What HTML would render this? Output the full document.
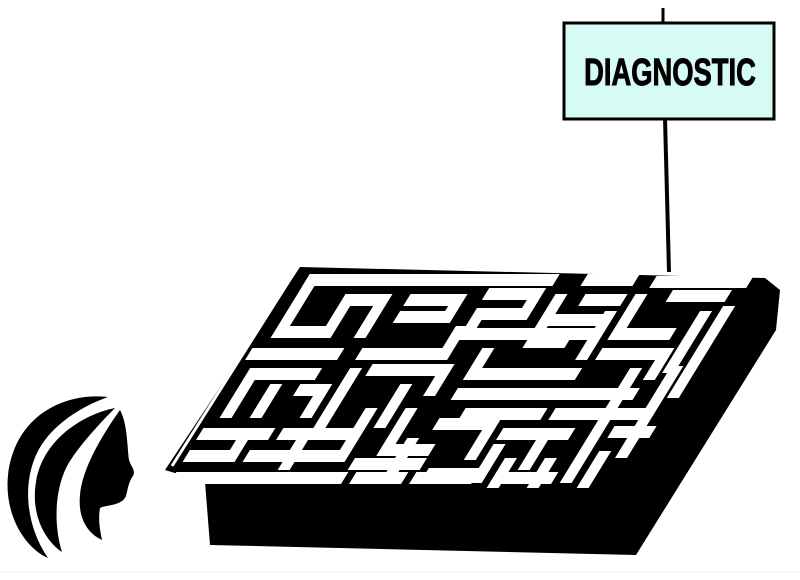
<!DOCTYPE html>
<html><head><style>html,body{margin:0;padding:0;background:#fff}svg{display:block}</style></head>
<body>
<svg width="800" height="580" viewBox="0 0 800 580" xmlns="http://www.w3.org/2000/svg">
<rect width="800" height="580" fill="#fff"/>
<line x1="0" y1="572" x2="800" y2="572" stroke="#eee" stroke-width="1"/>
<!-- pole -->
<line x1="663" y1="8" x2="663" y2="24" stroke="#000" stroke-width="3"/>
<line x1="665" y1="118" x2="669" y2="272" stroke="#000" stroke-width="4"/>
<!-- sign -->
<rect x="564" y="23" width="210" height="96" fill="#d6fbf5" stroke="#000" stroke-width="3"/>
<text x="670" y="85" text-anchor="middle" font-family="Liberation Sans, sans-serif" font-weight="bold" font-size="38" stroke="#000" stroke-width="1" transform="translate(670 0) scale(0.72 1) translate(-670 0)" fill="#000">DIAGNOSTIC</text>
<!-- maze body -->
<polygon points="300,267 765,278 780,290 776,330 636,555 210,545 205,482 165,470" fill="#000"/>
<line x1="296" y1="270" x2="172" y2="466" stroke="#fff" stroke-width="3"/>
<g transform="matrix(1,0,-0.613,1,305,272)" stroke="#fff" stroke-width="12" stroke-linecap="square" fill="none">
<path d="M12 8 H250 M290 8 H330 M360 10 H445"/>
<path d="M12 8 V60 H60 V28 H95 V60 M125 28 H170 V45 H125 M200 22 H245 V42 H200 V62 H250 M270 28 V70 H300 M300 28 H330 M280 48 H320 M350 28 V62 H400 M385 24 H432 M425 45 V95 M350 82 H410 V102"/>
<path d="M0 82 H80 M110 82 H190 M190 60 V82 M230 82 V102 H330 M260 62 H330 M330 45 V82 M445 40 V120"/>
<path d="M10 102 V140 M10 102 H70 M40 118 V140 M70 118 H90 V140 M110 102 V150 M130 98 H200 V118 M170 118 V150 M230 122 H400 M250 142 H320 M340 142 H420 M390 102 V205 M430 100 V180"/>
<path d="M0 162 H60 M80 162 H150 M150 142 V172 M190 142 V178 H230 M230 152 H280 V182 M300 162 H360 M340 162 V192 M410 160 H440"/>
<path d="M0 184 H40 M40 172 V184 M60 184 H150 M100 166 V192 M170 192 H230 M210 172 V205 M250 202 H300 M300 178 V205 M320 192 V210 M360 192 V210 M410 185 V210"/>
<path d="M0 206 H160 M180 206 H220 M240 206 H290 M330 206 H370"/>
</g>
<!-- face -->
<g fill="#000">
<path d="M108 397 C65 392 15 415 8 475 C4 515 25 548 48 558 C22 520 22 470 45 440 C60 420 85 405 108 397 Z"/>
<path d="M115 408 C80 415 42 442 36 482 C30 518 48 543 62 552 C52 520 56 480 72 458 C82 443 100 423 115 408 Z"/>
<path d="M120 410 C128 425 127 448 129 460 C131 467 136 470 133 476 C129 481 128 488 126 496 C122 506 105 505 100 508 C98 520 100 530 102 540 C85 532 78 515 80 495 C82 470 100 438 120 410 Z"/>
</g>
</svg>
</body></html>
